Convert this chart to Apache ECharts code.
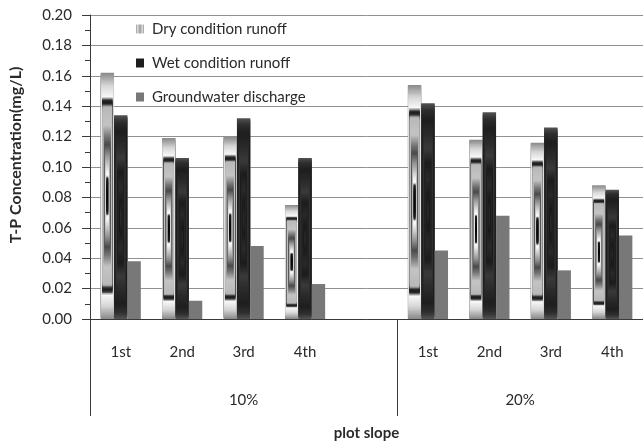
<!DOCTYPE html>
<html>
<head>
<meta charset="utf-8">
<script src="https://cdn.jsdelivr.net/npm/echarts@6/dist/echarts.min.js"></script>
<style>
html,body{margin:0;padding:0;background:#fff;}
#chart{width:643px;height:446px;}
</style>
</head>
<body>
<div id="chart"></div>
<script>
// ---- data ----
const categories = ['1st', '2nd', '3rd', '4th', '', '1st', '2nd', '3rd', '4th'];
const groupLabels = ['10%', '20%'];
const groupSizes = [5, 4];
const seriesNames = ['Dry condition runoff', 'Wet condition runoff', 'Groundwater discharge'];
const dryValues = [0.162, 0.119, 0.120, 0.075, null, 0.154, 0.118, 0.116, 0.088];
const wetValues = [0.134, 0.106, 0.132, 0.106, null, 0.142, 0.136, 0.126, 0.085];
const groundValues = [0.038, 0.012, 0.048, 0.023, null, 0.045, 0.068, 0.032, 0.055];
const yTicks = [0, 0.02, 0.04, 0.06, 0.08, 0.10, 0.12, 0.14, 0.16, 0.18, 0.20];

// ---- styling helpers ----
const FONT = "Lato, 'Open Sans', 'Liberation Sans', sans-serif";
const TXT = '#2a2a2a';
const dryStops = [
  [0.00, [140,140,140]], [0.10, [214,214,214]], [0.19, [248,248,248]],
  [0.215, [58,58,58]], [0.23, [26,26,26]], [0.25, [44,44,44]],
  [0.27, [184,184,184]], [0.42, [196,196,196]], [0.52, [112,112,112]],
  [0.58, [74,74,74]], [0.66, [144,144,144]], [0.74, [200,200,200]],
  [0.80, [242,242,242]], [0.83, [255,255,255]], [0.85, [30,30,30]], [1.00, [0,0,0]]
];
const wetStops = [
  [0.00, [80,80,80]], [0.06, [46,46,46]], [0.15, [30,30,30]], [0.30, [44,44,44]],
  [0.42, [58,58,58]], [0.55, [28,28,28]], [0.70, [42,42,42]], [0.85, [26,26,26]], [1.00, [50,50,50]]
];
function colorAt(stops, t) {
  for (let i = 1; i < stops.length; i++) {
    if (t <= stops[i][0]) {
      const a = stops[i-1], b = stops[i];
      const f = (t - a[0]) / (b[0] - a[0] || 1);
      const c = a[1].map((v, k) => Math.round(v + (b[1][k] - v) * f));
      return 'rgb(' + c.join(',') + ')';
    }
  }
  const l = stops[stops.length-1][1];
  return 'rgb(' + l.join(',') + ')';
}

const BAR_FRAC = 0.218;
function barRect(api, slot) {
  const idx = api.value(0), v = api.value(1);
  const top = api.coord([idx, v]);
  const base = api.coord([idx, 0]);
  const band = api.size([1, 0])[0];
  const bw = band * BAR_FRAC;
  const x0 = top[0] - 1.5 * bw + slot * bw;
  return { x: x0, y: top[1], width: bw, height: base[1] - top[1] };
}
function pathGradientBar(r, stops) {
  const N = 90;
  const children = [];
  const hw = r.width / 2, hh = r.height / 2;
  for (let k = 0; k < N; k++) {
    const t = k / N;
    children.push({
      type: 'rect',
      shape: { x: r.x + t * hw, y: r.y + t * hh, width: r.width - 2 * t * hw, height: r.height - 2 * t * hh },
      style: { fill: colorAt(stops, t) },
      silent: true
    });
  }
  return { type: 'group', children: children };
}
function makeRender(slot) {
  return function (params, api) {
    if (api.value(1) == null || isNaN(api.value(1))) return null;
    const r = barRect(api, slot);
    if (slot === 0) return pathGradientBar(r, dryStops);
    if (slot === 1) return pathGradientBar(r, wetStops);
    return { type: 'rect', shape: r, style: { fill: '#787878' } };
  };
}
function toData(arr) {
  return arr.map((v, i) => [i, v == null ? '-' : v]);
}

// group axis (half-unit positions, boundaryGap false)
const totalCats = categories.length;
const groupAxisData = new Array(totalCats * 2 + 1).fill('');
const groupTickIdx = [];
let start = 0;
groupLabels.forEach((g, i) => {
  groupTickIdx.push(start * 2);
  groupAxisData[Math.round((start + groupSizes[i] / 2) * 2)] = g;
  start += groupSizes[i];
});
groupTickIdx.push(start * 2);

const chart = echarts.init(document.getElementById('chart'), null, { renderer: 'canvas' });
const option = {
  animation: false,
  textStyle: { fontFamily: FONT },
  grid: { left: 89, right: -2, top: 15, bottom: 125, containLabel: false },
  legend: {
    orient: 'vertical',
    left: 131,
    top: 16,
    itemGap: 18,
    itemWidth: 8,
    itemHeight: 9,
    textStyle: { fontFamily: FONT, fontSize: 15, lineHeight: 16, color: TXT, padding: [0, 0, 0, 3] },
    data: [
      { name: seriesNames[0], icon: 'rect', itemStyle: { color: new echarts.graphic.LinearGradient(0, 0, 1, 0, [
        { offset: 0, color: '#999' }, { offset: 0.25, color: '#eee' }, { offset: 0.4, color: '#888' },
        { offset: 0.5, color: '#ddd' }, { offset: 0.6, color: '#888' }, { offset: 0.75, color: '#eee' }, { offset: 1, color: '#999' }]) } },
      { name: seriesNames[1], icon: 'rect', itemStyle: { color: '#1e1e1e' } },
      { name: seriesNames[2], icon: 'rect', itemStyle: { color: '#787878' } }
    ]
  },
  xAxis: [
    {
      type: 'category',
      data: categories,
      position: 'bottom',
      axisLine: { show: true, lineStyle: { color: '#3a3a3a', width: 1 } },
      axisTick: { show: false },
      axisLabel: { margin: 26, fontSize: 15, color: TXT, fontFamily: FONT, interval: 0 },
      splitLine: { show: false }
    },
    {
      type: 'category',
      data: groupAxisData,
      boundaryGap: false,
      position: 'bottom',
      axisLine: { show: false },
      axisTick: { show: true, length: 97, lineStyle: { color: '#3a3a3a' },
        interval: function (i) { return groupTickIdx.indexOf(i) >= 0; } },
      axisLabel: { margin: 74, fontSize: 15, color: TXT, fontFamily: FONT,
        interval: function (i, v) { return v !== ''; } },
      name: 'plot slope',
      nameLocation: 'middle',
      nameGap: 107,
      nameTextStyle: { fontSize: 15, fontWeight: 'bold', color: TXT, fontFamily: FONT },
      splitLine: { show: false }
    }
  ],
  yAxis: {
    type: 'value',
    min: yTicks[0],
    max: yTicks[yTicks.length - 1],
    interval: yTicks[1] - yTicks[0],
    axisLine: { show: true, lineStyle: { color: '#3a3a3a' } },
    axisTick: { show: true, length: 8, lineStyle: { color: '#3a3a3a' } },
    minorTick: { show: true, splitNumber: 2, length: 5, lineStyle: { color: '#3a3a3a' } },
    axisLabel: { margin: 18, fontSize: 15, color: TXT, fontFamily: FONT,
      formatter: function (v) { return v.toFixed(2); } },
    splitLine: { show: true, lineStyle: { color: '#909090', width: 1 } },
    name: 'T-P Concentration(mg/L)',
    nameLocation: 'middle',
    nameGap: 66,
    nameRotate: 90,
    nameTextStyle: { fontSize: 16, fontWeight: 'bold', color: TXT, fontFamily: FONT, padding: [0, 0, 0, 24] }
  },
  series: [
    { name: seriesNames[0], type: 'custom', renderItem: makeRender(0), data: toData(dryValues),
      itemStyle: { color: '#c8c8c8' }, encode: { x: 0, y: 1 } },
    { name: seriesNames[1], type: 'custom', renderItem: makeRender(1), data: toData(wetValues),
      itemStyle: { color: '#1e1e1e' }, encode: { x: 0, y: 1 } },
    { name: seriesNames[2], type: 'custom', renderItem: makeRender(2), data: toData(groundValues),
      itemStyle: { color: '#787878' }, encode: { x: 0, y: 1 } }
  ]
};
chart.setOption(option);
</script>
</body>
</html>
